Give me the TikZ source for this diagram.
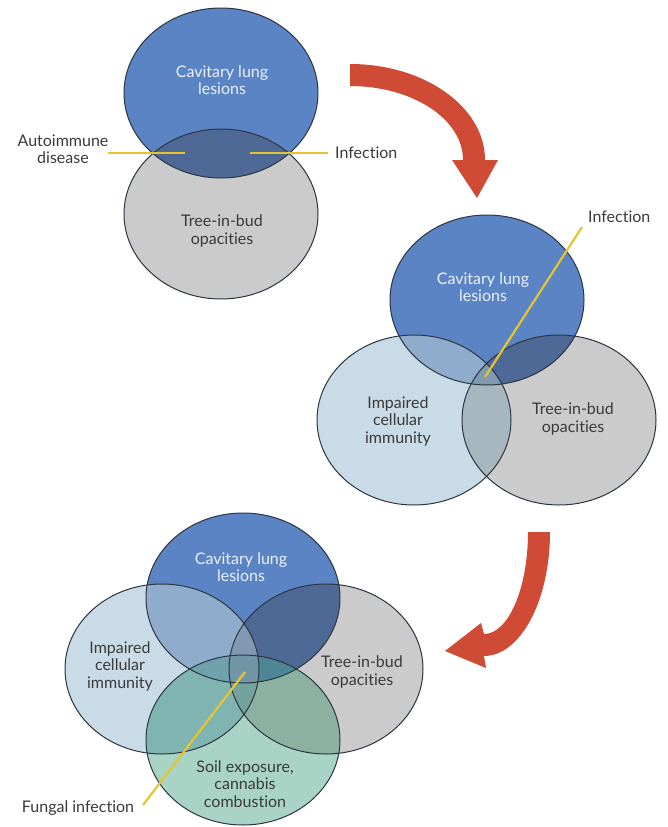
\documentclass[tikz,border=0pt]{standalone}
\usepackage{fontspec}
\setmainfont{Lato}[Ligatures={NoCommon,NoDiscretionary}]
\definecolor{cB}{HTML}{5B84C4}
\definecolor{cL}{HTML}{C9DBE6}
\definecolor{cG}{HTML}{CBCBCB}
\definecolor{cN}{HTML}{A9D3C5}
\definecolor{cBL}{HTML}{90ACCC}
\definecolor{cBG}{HTML}{4E6996}
\definecolor{cLG}{HTML}{A6B7C0}
\definecolor{cBLG}{HTML}{8299B2}
\definecolor{cBN}{HTML}{5A8FA8}
\definecolor{cLN}{HTML}{80B4B0}
\definecolor{cGN}{HTML}{8DB1A0}
\definecolor{cBLN}{HTML}{6FA2AC}
\definecolor{cBGN}{HTML}{4D8797}
\definecolor{cLGN}{HTML}{74A39F}
\definecolor{cBLGN}{HTML}{7296A6}
\definecolor{outline}{HTML}{2C3540}
\definecolor{darktext}{HTML}{3A3A3A}
\definecolor{lighttext}{HTML}{EAF0F8}
\definecolor{gold}{HTML}{E4C430}
\definecolor{arrowred}{HTML}{D04B35}
% one Venn set: an ellipse around a named centre
\newcommand\vset[1]{(#1) ellipse [x radius=97pt, y radius=85pt]}
\begin{document}
\begin{tikzpicture}[x=1pt,y=-1pt,
  lbl/.style={font=\fontsize{16}{17.5}\selectfont, align=center, text=darktext, inner sep=0pt},
  lbllight/.style={lbl, text=lighttext},
  rim/.style={draw=outline, line width=1pt},
  pointer/.style={draw=gold, line width=2.2pt},
  bigarrow/.style={fill=arrowred}]
\useasboundingbox (0,0) rectangle (667,827);

% ---------- two sets ----------
\coordinate (t1) at (221,93);
\coordinate (t2) at (221,214);
\fill[cB] \vset{t1};
\fill[cG] \vset{t2};
\begin{scope}\clip \vset{t1}; \fill[cBG] \vset{t2}; \end{scope}
\draw[rim] \vset{t1};
\draw[rim] \vset{t2};
\node[lbllight] (t1txt) at (222,80) {Cavitary lung\\lesions};
\node[lbl] (t2txt) at (222,231) {Tree-in-bud\\opacities};
\node[lbl] (autoimm) at (63,149) {Autoimmune\\disease};
\node[lbl, anchor=west] (inf1) at (335,153) {Infection};
\coordinate (a1) at (108,153);
\coordinate (a2) at (185,153);
\coordinate (b1) at (250,153);
\coordinate (b2) at (328,153);
\draw[pointer] (a1) -- (a2);
\draw[pointer] (b1) -- (b2);

% ---------- three sets ----------
\coordinate (m1) at (487,300);
\coordinate (m2) at (414,420);
\coordinate (m3) at (559,420);
\fill[cB] \vset{m1};
\fill[cL] \vset{m2};
\fill[cG] \vset{m3};
\begin{scope}\clip \vset{m1}; \fill[cBL] \vset{m2}; \fill[cBG] \vset{m3}; \end{scope}
\begin{scope}\clip \vset{m2}; \fill[cLG] \vset{m3}; \end{scope}
\begin{scope}\clip \vset{m1}; \clip \vset{m2}; \fill[cBLG] \vset{m3}; \end{scope}
\draw[rim] \vset{m1};
\draw[rim] \vset{m2};
\draw[rim] \vset{m3};
\node[lbllight] (m1txt) at (483,287) {Cavitary lung\\lesions};
\node[lbl] (m2txt) at (398,421) {Impaired\\cellular\\immunity};
\node[lbl] (m3txt) at (573,419) {Tree-in-bud\\opacities};
\node[lbl, anchor=west] (inf2) at (588,217) {Infection};
\coordinate (c1) at (582,227);
\coordinate (c2) at (485,377);
\draw[pointer] (c1) -- (c2);

% ---------- four sets ----------
\coordinate (q1) at (243,598);
\coordinate (q2) at (162,669);
\coordinate (q3) at (326,669);
\coordinate (q4) at (243,740);
\fill[cB] \vset{q1};
\fill[cL] \vset{q2};
\fill[cG] \vset{q3};
\fill[cN] \vset{q4};
\begin{scope}\clip \vset{q1}; \fill[cBL] \vset{q2}; \fill[cBG] \vset{q3}; \fill[cBN] \vset{q4}; \end{scope}
\begin{scope}\clip \vset{q2}; \fill[cLG] \vset{q3}; \fill[cLN] \vset{q4}; \end{scope}
\begin{scope}\clip \vset{q3}; \fill[cGN] \vset{q4}; \end{scope}
\begin{scope}\clip \vset{q1}; \clip \vset{q2}; \fill[cBLG] \vset{q3}; \fill[cBLN] \vset{q4}; \end{scope}
\begin{scope}\clip \vset{q1}; \clip \vset{q3}; \fill[cBGN] \vset{q4}; \end{scope}
\begin{scope}\clip \vset{q2}; \clip \vset{q3}; \fill[cLGN] \vset{q4}; \end{scope}
\begin{scope}\clip \vset{q1}; \clip \vset{q2}; \clip \vset{q3}; \fill[cBLGN] \vset{q4}; \end{scope}
\draw[rim] \vset{q1};
\draw[rim] \vset{q2};
\draw[rim] \vset{q3};
\draw[rim] \vset{q4};
\node[lbllight] (q1txt) at (241,567) {Cavitary lung\\lesions};
\node[lbl] (q2txt) at (120,666) {Impaired\\cellular\\immunity};
\node[lbl] (q3txt) at (362,672) {Tree-in-bud\\opacities};
\node[lbl] (q4txt) at (245,784) {Soil exposure,\\cannabis\\combustion};
\node[lbl] (fungal) at (78,808) {Fungal infection};
\coordinate (d1) at (245,672);
\coordinate (d2) at (143,805);
\draw[pointer] (d1) -- (d2);

% ---------- curved arrows between stages ----------
\fill[bigarrow] (350,64) arc[start angle=90, end angle=0, x radius=135pt, y radius=96pt]
  -- (498,160) -- (477,198) -- (452,160) -- (463,160)
  arc[start angle=0, end angle=90, x radius=113pt, y radius=74pt] -- cycle;
\fill[bigarrow] (550,532) arc[start angle=0, end angle=-90, x radius=66pt, y radius=124pt]
  -- (486,668) -- (445,651) -- (481,623) -- (484,634)
  arc[start angle=-90, end angle=0, x radius=44pt, y radius=102pt] -- cycle;
\end{tikzpicture}
\end{document}
